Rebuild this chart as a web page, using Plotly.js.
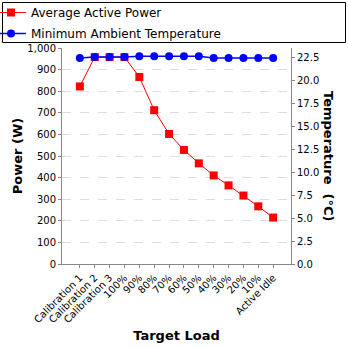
<!DOCTYPE html>
<html><head><meta charset="utf-8">
<script src="https://cdn.plot.ly/plotly-3.0.1.min.js"></script>
<style>html,body{margin:0;padding:0;background:#fff}#c{width:348px;height:348px}</style>
</head><body><div id="c"></div>
<script>
const categories = ["Calibration 1","Calibration 2","Calibration 3","100%","90%","80%","70%","60%","50%","40%","30%","20%","10%","Active Idle"];
const powerW = [822, 958, 958, 958, 866, 712, 602, 528, 466, 410, 364, 317, 267, 215];
const tempC = [22.4, 22.5, 22.5, 22.5, 22.6, 22.6, 22.6, 22.6, 22.6, 22.4, 22.4, 22.4, 22.4, 22.4];
const powerTicks = [0,100,200,300,400,500,600,700,800,900,1000];
const tempTicks = [0,2.5,5,7.5,10,12.5,15,17.5,20,22.5];

const F = "DejaVu Sans, sans-serif";
const W = 348, H = 348, L = 62, R = 57, T = 48, B = 84;
const pw = W - L - R, ph = H - T - B;
const px = v => (v - L) / pw, py = v => 1 + (T - v) / ph;

const traces = [
  {x: categories, y: powerW, name: "Average Active Power", type: "scatter", mode: "lines+markers", legendgroup: "a",
   line: {color: "#ff0000", width: 1}, marker: {symbol: "square", size: 8, color: "#ff0000"}, yaxis: "y"},
  {x: categories, y: tempC, name: "Minimum Ambient Temperature", type: "scatter", mode: "lines+markers", legendgroup: "b",
   line: {color: "#0000ff", width: 1.5}, marker: {symbol: "circle", size: 8, color: "#0000ff"}, yaxis: "y2"}
];

const layout = {
  width: W, height: H, margin: {l: L, r: R, t: T, b: B, pad: 0, autoexpand: false},
  paper_bgcolor: "#fff", plot_bgcolor: "#fff",
  font: {family: F, size: 10, color: "#000"},
  showlegend: true,
  legend: {x: px(-9), y: py(-2), xanchor: "left", yanchor: "top",
    orientation: "v", font: {family: F, size: 12, color: "#000"}, bgcolor: "rgba(0,0,0,0)", borderwidth: 0,
    tracegroupgap: 2, itemwidth: 30},
  xaxis: {type: "category", range: [-1.2, 14.2], tickangle: -45, showgrid: false,
    showline: true, linecolor: "#888", linewidth: 1, ticks: "outside", ticklen: 3, tickcolor: "#888",
    tickfont: {family: F, size: 10, color: "#000"}, zeroline: false, automargin: true,
    title: {text: "<b>Target Load</b>", font: {family: F, size: 13, color: "#000"}, standoff: 6}},
  yaxis: {range: [0, 1000], tickvals: powerTicks, tickformat: ",d", showgrid: true, gridcolor: "#ddd",
    griddash: "dash", gridwidth: 1, showline: true, linecolor: "#888", linewidth: 1, ticks: "outside",
    ticklen: 3, tickcolor: "#888", zeroline: false, tickfont: {family: F, size: 10, color: "#000"}, automargin: true,
    title: {text: "<b>Power (W)</b>", font: {family: F, size: 13, color: "#000"}, standoff: 1}},
  yaxis2: {overlaying: "y", side: "right", range: [0, 23.49], tickvals: tempTicks, tickformat: ".1f",
    showgrid: false, showline: true, linecolor: "#888", linewidth: 1, ticks: "outside", ticklen: 3,
    tickcolor: "#888", zeroline: false, tickfont: {family: F, size: 10, color: "#000"}, automargin: false},
  shapes: [{type: "rect", xref: "paper", yref: "paper", x0: px(2.5), x1: px(345.5), y0: py(42.5), y1: py(2.5),
    line: {color: "#000", width: 1}, fillcolor: "rgba(0,0,0,0)"}],
  annotations: [{xref: "paper", yref: "paper", x: px(329), y: py(156), xanchor: "center", yanchor: "middle",
    text: "<b>Temperature  (°C)</b>", textangle: 90, showarrow: false, font: {family: F, size: 13, color: "#000"}}]
};

Plotly.newPlot("c", traces, layout, {displayModeBar: false, staticPlot: true});
</script></body></html>
